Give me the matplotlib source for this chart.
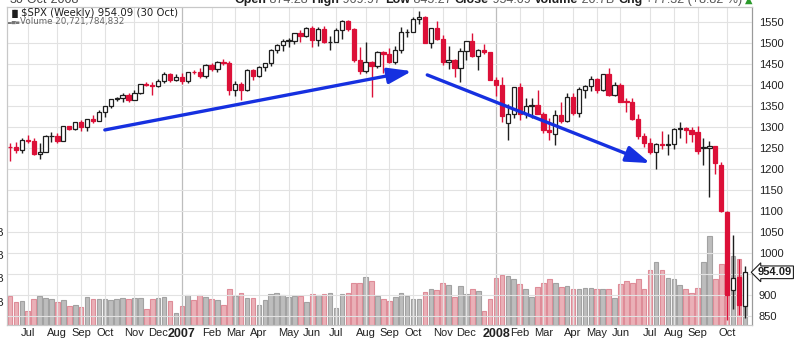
import numpy as np
import pandas as pd
import matplotlib
matplotlib.use('Agg')
import matplotlib.pyplot as plt
import matplotlib.transforms as mtransforms

# weekly $SPX bars, week of 12 Jun 2006 through week of 27 Oct 2008
week_start = pd.date_range('2006-06-12', periods=125, freq='7D')

week_open = [
	1252.3, 1251.5, 1244.5, 1270.2, 1265.5, 1236.2, 1240.3, 1278.6, 1279.4, 1266.7,
	1302.3, 1295.1, 1311.0, 1298.9, 1319.7, 1314.8, 1335.8, 1350.0, 1365.6, 1368.6,
	1377.3, 1364.3, 1380.9, 1401.2, 1401.0, 1396.7, 1409.1, 1427.1, 1410.8, 1418.3,
	1409.7, 1430.7, 1430.5, 1422.2, 1448.4, 1438.1, 1455.5, 1451.2, 1387.2, 1402.8,
	1387.0, 1436.1, 1420.9, 1443.8, 1452.9, 1484.4, 1494.1, 1505.6, 1505.9, 1522.8,
	1515.7, 1536.3, 1507.7, 1532.9, 1502.6, 1503.4, 1530.4, 1552.5, 1534.1, 1459.0,
	1433.1, 1453.6, 1445.9, 1479.4, 1474.0, 1453.6, 1484.3, 1525.8, 1527.0, 1557.6,
	1561.8, 1500.6, 1535.3, 1509.7, 1453.7, 1458.7, 1440.7, 1481.1, 1504.7, 1468.0,
	1484.5, 1478.5, 1411.9, 1401.0, 1310.0, 1330.6, 1395.4, 1331.3, 1350.0, 1353.1,
	1330.6, 1293.4, 1283.0, 1329.5, 1315.2, 1370.4, 1332.8, 1387.7, 1397.8, 1413.9,
	1388.3, 1425.4, 1375.9, 1400.4, 1360.7, 1360.0, 1317.9, 1278.4, 1262.9, 1239.5,
	1260.7, 1257.8, 1260.3, 1296.3, 1298.2, 1292.2, 1287.8, 1249.5, 1250.9, 1255.1,
	1209.1, 1097.6, 912.8, 943.5, 874.28,
]
week_high = [
	1262.0, 1263.6, 1272.9, 1280.4, 1273.0, 1262.0, 1280.0, 1287.0, 1286.0, 1303.0,
	1302.3, 1312.0, 1316.0, 1320.0, 1328.0, 1340.0, 1350.0, 1366.0, 1372.0, 1381.0,
	1381.0, 1389.0, 1403.0, 1406.0, 1408.0, 1415.0, 1431.0, 1428.0, 1427.0, 1429.0,
	1432.0, 1435.0, 1441.0, 1449.0, 1452.0, 1457.0, 1461.0, 1456.0, 1410.0, 1408.0,
	1437.0, 1438.0, 1445.0, 1453.0, 1485.0, 1498.0, 1510.0, 1513.0, 1523.0, 1530.0,
	1539.0, 1540.0, 1538.0, 1540.0, 1517.0, 1535.0, 1555.0, 1555.9, 1535.0, 1490.0,
	1503.0, 1456.0, 1480.0, 1481.0, 1487.0, 1492.0, 1538.0, 1533.0, 1561.0, 1576.0,
	1565.0, 1536.0, 1552.8, 1520.0, 1492.0, 1461.0, 1489.0, 1505.0, 1523.6, 1485.0,
	1498.0, 1471.0, 1418.0, 1420.0, 1355.0, 1396.0, 1405.0, 1368.0, 1368.0, 1388.0,
	1335.0, 1321.0, 1341.0, 1359.0, 1380.0, 1380.0, 1395.0, 1400.0, 1421.0, 1416.0,
	1425.0, 1440.0, 1406.0, 1404.0, 1368.0, 1370.0, 1330.0, 1285.0, 1275.0, 1263.0,
	1291.0, 1284.0, 1297.0, 1313.0, 1300.0, 1300.0, 1303.0, 1274.0, 1266.0, 1255.0,
	1216.0, 1099.0, 1044.0, 985.0, 969.97,
]
week_low = [
	1219.3, 1237.0, 1238.0, 1262.0, 1234.0, 1224.5, 1240.0, 1265.0, 1263.0, 1267.0,
	1292.0, 1293.0, 1291.0, 1290.0, 1309.0, 1314.0, 1323.0, 1345.0, 1362.0, 1359.0,
	1360.0, 1364.0, 1378.0, 1398.0, 1377.0, 1396.0, 1405.0, 1407.0, 1410.0, 1403.0,
	1405.0, 1425.0, 1416.0, 1416.0, 1433.0, 1432.0, 1447.0, 1377.0, 1373.0, 1363.8,
	1385.0, 1411.0, 1419.0, 1433.0, 1446.0, 1476.0, 1481.0, 1491.0, 1497.0, 1503.0,
	1514.0, 1489.6, 1492.0, 1500.0, 1484.0, 1503.0, 1510.0, 1529.0, 1455.0, 1427.0,
	1429.0, 1370.6, 1440.0, 1429.0, 1453.0, 1451.0, 1475.0, 1515.0, 1526.0, 1546.0,
	1500.0, 1489.0, 1507.0, 1448.0, 1438.0, 1419.0, 1406.0, 1460.0, 1467.0, 1435.0,
	1473.0, 1411.0, 1374.0, 1312.0, 1270.0, 1322.0, 1317.0, 1321.0, 1322.0, 1330.0,
	1285.0, 1270.0, 1256.9, 1310.0, 1312.0, 1328.0, 1324.0, 1369.0, 1385.0, 1382.0,
	1386.0, 1373.0, 1373.0, 1360.0, 1335.0, 1317.0, 1272.0, 1253.0, 1235.0, 1200.4,
	1247.0, 1234.0, 1248.0, 1274.0, 1262.0, 1265.0, 1236.0, 1210.0, 1133.5, 1187.0,
	1097.0, 839.8, 865.8, 852.9, 845.27,
]
week_close = [
	1251.5, 1244.5, 1270.2, 1265.5, 1236.2, 1240.3, 1278.6, 1279.4, 1266.7, 1302.3,
	1295.1, 1311.0, 1298.9, 1319.7, 1314.8, 1335.8, 1350.0, 1365.6, 1368.6, 1377.3,
	1364.3, 1380.9, 1401.2, 1401.0, 1396.7, 1409.1, 1427.1, 1410.8, 1418.3, 1409.7,
	1430.7, 1430.5, 1422.2, 1448.4, 1438.1, 1455.5, 1451.2, 1387.2, 1402.8, 1387.0,
	1436.1, 1420.9, 1443.8, 1452.9, 1484.4, 1494.1, 1505.6, 1505.9, 1522.8, 1515.7,
	1536.3, 1507.7, 1532.9, 1502.6, 1503.4, 1530.4, 1552.5, 1534.1, 1459.0, 1433.1,
	1453.6, 1445.9, 1479.4, 1474.0, 1453.6, 1484.3, 1525.8, 1527.0, 1557.6, 1561.8,
	1500.6, 1535.3, 1509.7, 1453.7, 1458.7, 1440.7, 1481.1, 1504.7, 1468.0, 1484.5,
	1478.5, 1411.6, 1401.0, 1325.2, 1330.6, 1395.4, 1331.3, 1350.0, 1353.1, 1330.6,
	1293.4, 1288.1, 1329.5, 1315.2, 1370.4, 1332.8, 1390.3, 1397.8, 1413.9, 1388.3,
	1425.4, 1375.9, 1400.4, 1360.7, 1360.0, 1317.9, 1278.4, 1262.9, 1239.5, 1260.7,
	1257.8, 1260.3, 1296.3, 1298.2, 1292.2, 1282.8, 1242.3, 1251.7, 1255.1, 1213.3,
	1099.2, 899.2, 940.6, 876.8, 954.09,
]
# weekly volume, billions of shares
week_volume = [
	12.4, 9.9, 10.3, 6.0, 11.2, 12.4, 11.6, 11.2, 9.9, 10.7,
	8.2, 8.6, 7.7, 12.0, 11.2, 11.2, 11.2, 10.7, 11.2, 11.6,
	11.2, 11.6, 11.6, 6.9, 11.2, 11.6, 12.0, 10.3, 5.1, 8.2,
	12.9, 10.7, 12.9, 12.0, 11.2, 10.7, 8.6, 15.4, 12.4, 13.7,
	11.6, 11.6, 8.6, 10.7, 13.3, 13.7, 12.9, 12.0, 12.4, 12.4,
	9.9, 13.3, 12.9, 13.3, 13.7, 7.3, 13.3, 13.7, 18.0, 18.0,
	20.6, 18.9, 12.4, 11.2, 10.3, 12.0, 13.7, 12.4, 11.2, 11.2,
	14.2, 15.4, 15.0, 18.0, 17.2, 12.0, 16.7, 13.3, 15.4, 14.6,
	6.0, 11.2, 20.2, 21.5, 21.0, 19.7, 17.6, 15.4, 12.0, 16.3,
	18.0, 19.7, 18.0, 16.3, 16.7, 15.4, 15.4, 15.9, 15.9, 15.4,
	15.4, 15.4, 11.6, 17.6, 18.9, 18.0, 19.7, 15.4, 23.6, 27.0,
	23.6, 20.2, 19.7, 17.2, 15.4, 13.7, 15.9, 27.0, 38.2, 19.7,
	26.2, 40.0, 29.6, 28.3, 20.7,
]
prev_close_first = 1252.3

# hand drawn trend arrows: (week index, price) start and end
arrow_weeks = [[16.0, 67.8], [70.4, 108.0]]
arrow_prices = [[1293, 1433], [1424, 1214]]

price_ticks = list(range(850, 1551, 50))
vol_ticks = [10, 20, 30, 40]

RED = '#dc1038'
BLACK = '#1e1e1e'
GRID = '#e2e2e2'

plt.rcParams['font.family'] = ['Liberation Sans', 'DejaVu Sans']

o = np.array(week_open)
h = np.array(week_high)
l = np.array(week_low)
c = np.array(week_close)
v = np.array(week_volume)
idx = np.arange(len(c))
prev = np.concatenate([[prev_close_first], c[:-1]])
down = c < prev
colors = np.where(down, RED, BLACK)

fig = plt.figure(figsize=(8.0, 3.44), dpi=100)
ax = fig.add_axes([7/800, 19/344, 745/800, 318/344])
axv = ax.twinx()
ax.set_zorder(2)
axv.set_zorder(1)
ax.patch.set_visible(False)

# volume underneath
vol_face = np.where(down, '#eab0b7', '#bdbdbd')
vol_edge = np.where(down, '#de8c98', '#a2a2a2')
axv.bar(idx, v, width=0.78, color=vol_face, edgecolor=vol_edge, linewidth=0.8)
axv.set_ylim(0, 136.5)
axv.yaxis.set_ticks_position('left')
axv.set_yticks(vol_ticks)
axv.set_yticklabels(['%dB' % t for t in vol_ticks])
axv.tick_params(axis='y', length=0, pad=2, labelsize=8, labelcolor='#222222')

# month grid
month_pos, month_lab, year_pos = [], [], []
for i in range(1, len(week_start)):
	if week_start[i].month != week_start[i-1].month:
		month_pos.append(i)
		if week_start[i].month == 1:
			month_lab.append(str(week_start[i].year))
			year_pos.append(i)
		else:
			month_lab.append(week_start[i].strftime('%b'))

for x in month_pos:
	ax.axvline(x, color='#bdbdbd' if x in year_pos else GRID, lw=0.9 if x in year_pos else 0.8, zorder=0)
for p in price_ticks:
	ax.axhline(p, color=GRID, lw=0.8, zorder=0)

# candles
ax.vlines(idx, l, h, colors=colors, lw=1.0, zorder=3)
body_lo = np.minimum(o, c)
body_h = np.maximum(np.abs(c - o), 0.8)
filled = c < o
face = np.where(filled, colors, 'white')
ax.bar(idx, body_h, bottom=body_lo, width=0.72, color=face, edgecolor=colors, linewidth=0.9, zorder=4)

# trend arrows
for xs, ys in zip(arrow_weeks, arrow_prices):
	ax.annotate('', xy=(xs[1], ys[1]), xytext=(xs[0], ys[0]),
		arrowprops=dict(arrowstyle='-|>,head_length=0.9,head_width=0.3', color='#1630e0',
			lw=2.4, mutation_scale=16, shrinkA=0, shrinkB=0), zorder=5)

ax.set_xlim(-0.506, 125.19)
ax.set_ylim(828.6, 1585.7)
ax.yaxis.tick_right()
ax.set_yticks(price_ticks)
# the 950 label sits under the last-value tag
ax.set_yticklabels(['' if p == 950 else str(p) for p in price_ticks])
ax.tick_params(axis='y', length=0, pad=5, labelsize=8, labelcolor='#222222')
ax.set_xticks(month_pos)
ax.set_xticklabels(month_lab)
ax.tick_params(axis='x', length=0, pad=2, labelsize=8, labelcolor='#222222')
for t in ax.get_xticklabels():
	if t.get_text().isdigit():
		t.set_fontweight('bold')
		t.set_fontsize(9)

for a in (ax, axv):
	for s in ('left', 'top', 'bottom'):
		a.spines[s].set_color('#c8c8c8')
		a.spines[s].set_linewidth(0.8)
	a.spines['right'].set_color('#9a9a9a')
	a.spines['right'].set_linestyle((0, (1, 1)))
	a.spines['right'].set_linewidth(0.8)

# last value tag
trans = mtransforms.blended_transform_factory(ax.transAxes, ax.transData)
ax.text(1.008, c[-1], '%.2f' % c[-1], transform=trans, fontsize=8, fontweight='bold',
	va='center', ha='left', color=BLACK, zorder=6, clip_on=False,
	bbox=dict(boxstyle='larrow,pad=0.12', fc='white', ec=BLACK, lw=0.8))

# legend text
fig.text(9/800, 1 - 13/344, '\u2590\u258c', fontsize=6, color=BLACK, va='center', ha='left', family='DejaVu Sans')
fig.text(21/800, 1 - 12.5/344, '$SPX (Weekly) %.2f (30 Oct)' % c[-1], fontsize=7.3,
	color=BLACK, va='center', ha='left', family='DejaVu Sans')
fig.text(8/800, 1 - 21.5/344, '\u2583\u2585\u2584', fontsize=3.5, color='#777777', va='center', ha='left', family='DejaVu Sans')
fig.text(20/800, 1 - 21.5/344, 'Volume 20,721,784,832', fontsize=6.3,
	color='#666666', va='center', ha='left', family='DejaVu Sans')

# header line, mostly above the canvas
fig.text(10/800, 1 - 3/344, '30-Oct-2008', fontsize=9, color='#444444', va='baseline', ha='left')
parts = [('Open', True), (' 874.28 ', False), ('High', True), (' 969.97 ', False),
	('Low', True), (' 845.27 ', False), ('Close', True), (' 954.09 ', False),
	('Volume', True), (' 20.7B ', False), ('Chg', True), (' +77.32 (+8.82 %) ', False)]
fig.canvas.draw()
renderer = fig.canvas.get_renderer()
right = 746.0
fig.text(752/800, 1 - 3/344, '\u25b2', fontsize=7, color='#2a9a2a', va='baseline', ha='right', family='DejaVu Sans')
for txt, bold in reversed(parts):
	t = fig.text(right/800, 1 - 3/344, txt, fontsize=9, va='baseline', ha='right',
		fontweight='bold' if bold else 'normal', color=BLACK if bold else '#555555')
	right -= t.get_window_extent(renderer).width

fig.savefig('out.png', dpi=100, facecolor='white')
